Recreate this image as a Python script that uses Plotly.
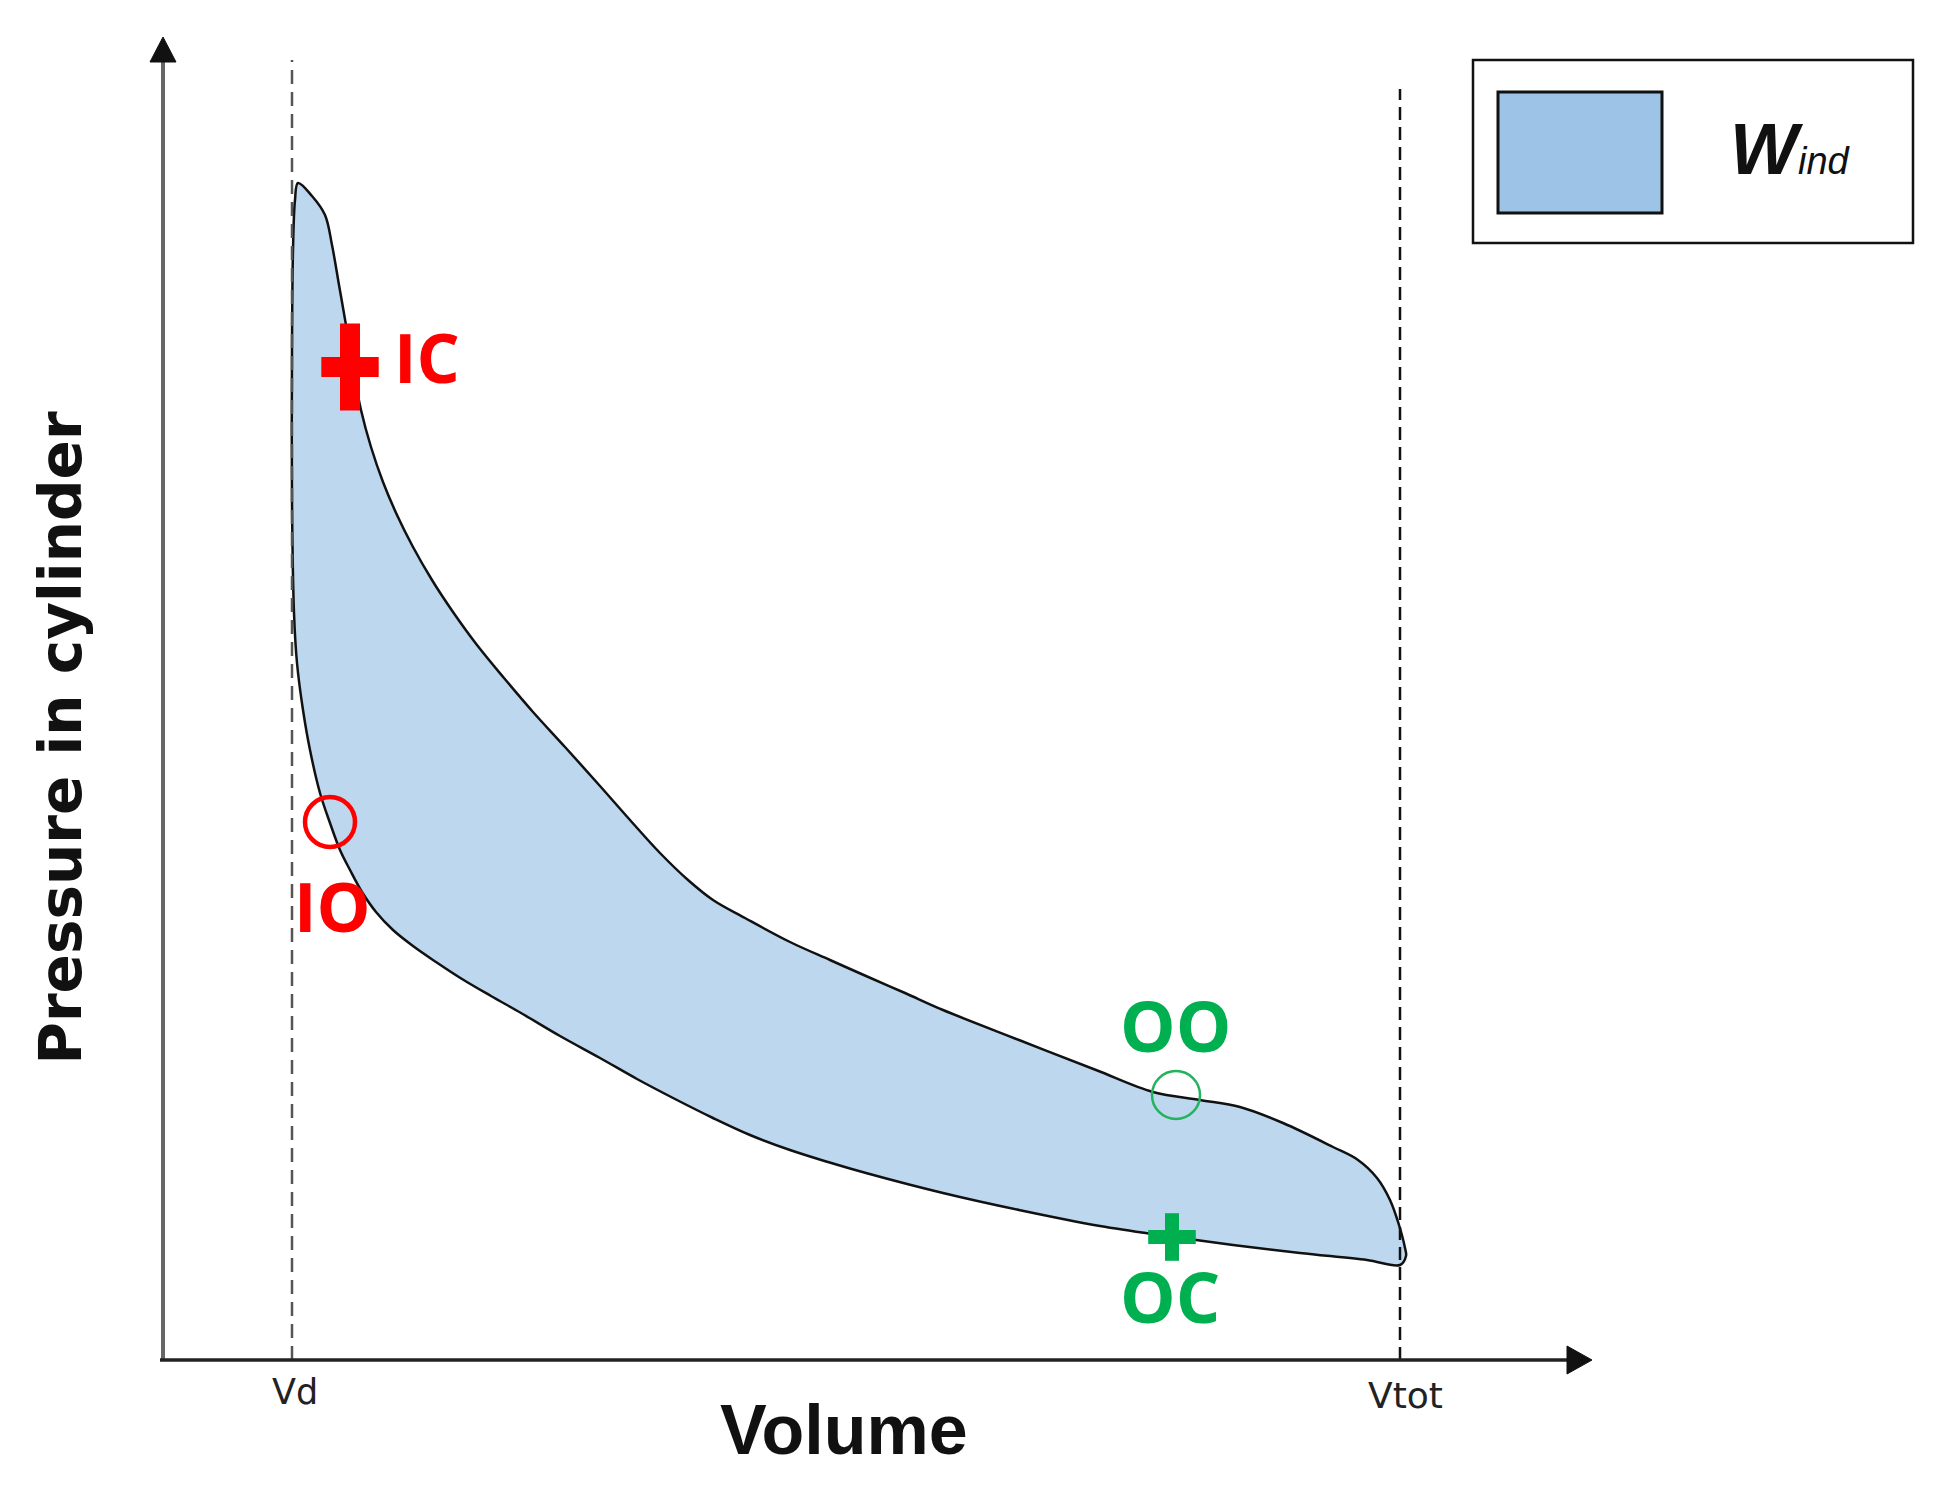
import plotly.graph_objects as go

vol_expansion = [13.5, 14.9, 16.2, 16.9, 17.6, 18.3, 19.0, 19.8, 20.8, 22.0, 23.4, 25.0, 26.9, 29.0,
                 31.4, 34.1, 37.0, 40.2, 43.7, 46.7, 49.7, 52.5, 55.0, 58.2, 62.7, 66.7, 70.3, 74.2,
                 78.0, 85.6, 93.3, 99.0, 103.7, 107.7, 112.0, 117.0, 119.5, 121.4, 122.7, 123.6,
                 124.2, 124.3, 123.7]
p_expansion = [117.7, 116.4, 114.5, 111.5, 107.5, 103.5, 99.2, 95.0, 91.3, 87.8, 84.5, 81.3, 78.0, 74.8,
               71.5, 68.2, 64.8, 61.3, 57.4, 54.0, 50.7, 48.0, 46.0, 44.2, 41.8, 40.0, 38.4, 36.7,
               35.0, 32.0, 29.0, 26.8, 26.0, 25.3, 23.7, 21.3, 20.0, 18.2, 16.0, 13.5,
               11.2, 10.4, 9.5]
vol_compression = [120.4, 113.7, 107.0, 100.4, 93.7, 85.6, 78.0, 70.3, 66.5, 62.7, 58.7, 55.0, 51.2,
                   47.4, 43.7, 39.7, 35.8, 32.8, 29.9, 27.3, 25.0, 23.0, 21.3, 19.9, 18.7, 17.7, 16.7,
                   15.7, 14.7, 14.0, 13.4, 13.1, 12.9, 12.9, 13.0, 13.2, 13.5]
p_compression = [10.0, 10.7, 11.5, 12.4, 13.4, 15.0, 16.7, 18.7, 19.8, 21.0, 22.5, 24.2, 26.1,
                 28.1, 30.2, 32.4, 34.7, 36.4, 38.1, 39.8, 41.4, 43.0, 44.8, 46.8, 49.0, 51.0, 53.7,
                 56.7, 61.0, 65.0, 69.7, 74.7, 86.0, 101.0, 111.0, 116.0, 117.7]

V_d = 12.9
V_tot = 123.7
vd_top = 130.0
vtot_top = 127.1

# valve events
ic_v, ic_p = [18.7], [99.3]
io_v, io_p = [16.7], [53.8]
oo_v, oo_p = [101.3], [26.5]
oc_v, oc_p = [100.9], [12.3]

tick_labels = ["Vd", "Vtot"]
x_title = "Volume"
y_title = "Pressure in cylinder"

# axis extent (origin at axes corner)
X_END = 142.9
Y_END = 132.3

RED = "#ff0000"
GREEN = "#00b050"
FILL = "#bdd7ee"
SWATCH = "#9dc3e6"

fig = go.Figure()

loop_v = vol_expansion + vol_compression
loop_p = p_expansion + p_compression
fig.add_trace(go.Scatter(x=loop_v, y=loop_p, mode="lines", fill="toself", fillcolor=FILL,
                         line=dict(color="#111", width=2.5, shape="spline", smoothing=1.0),
                         showlegend=False, hoverinfo="skip"))

# dashed reference lines at Vd and Vtot
fig.add_trace(go.Scatter(x=[V_d, V_d], y=[0, vd_top], mode="lines",
                         line=dict(color="#555", width=2.5, dash="14px,8px"), showlegend=False))
fig.add_trace(go.Scatter(x=[V_tot, V_tot], y=[0, vtot_top], mode="lines",
                         line=dict(color="#111", width=2.5, dash="13px,7px"), showlegend=False))

# IC cross (taller than wide)
fig.add_trace(go.Scatter(x=ic_v, y=ic_p, mode="markers",
                         marker=dict(symbol="line-ns", size=62, line=dict(width=20, color=RED)),
                         showlegend=False))
fig.add_trace(go.Scatter(x=ic_v, y=ic_p, mode="markers",
                         marker=dict(symbol="line-ew", size=41, line=dict(width=20, color=RED)),
                         showlegend=False))
# IO circle
fig.add_trace(go.Scatter(x=io_v, y=io_p, mode="markers",
                         marker=dict(symbol="circle-open", size=50, color=RED, line=dict(width=4.5, color=RED)),
                         showlegend=False))
# OO circle
fig.add_trace(go.Scatter(x=oo_v, y=oo_p, mode="markers",
                         marker=dict(symbol="circle-open", size=48, color="#22b35c",
                                     line=dict(width=2.5, color="#22b35c")),
                         showlegend=False))
# OC cross
fig.add_trace(go.Scatter(x=oc_v, y=oc_p, mode="markers",
                         marker=dict(symbol="line-ns", size=34, line=dict(width=14, color=GREEN)),
                         showlegend=False))
fig.add_trace(go.Scatter(x=oc_v, y=oc_p, mode="markers",
                         marker=dict(symbol="line-ew", size=34, line=dict(width=14, color=GREEN)),
                         showlegend=False))

shapes = [
    # y axis
    dict(type="line", x0=0, y0=0, x1=0, y1=Y_END - 2.5, line=dict(color="#666", width=4)),
    dict(type="path", path=f"M -1.3 {Y_END-2.5} L 0 {Y_END} L 1.3 {Y_END-2.5} Z",
         fillcolor="#111", line=dict(color="#111", width=1)),
    # x axis
    dict(type="line", x0=-0.3, y0=0, x1=X_END - 2.5, y1=0, line=dict(color="#222", width=3.5)),
    dict(type="path", path=f"M {X_END-2.5} -1.4 L {X_END} 0 L {X_END-2.5} 1.4 Z",
         fillcolor="#111", line=dict(color="#111", width=1)),
    # legend box
    dict(type="rect", x0=131.0, y0=111.7, x1=175.0, y1=130.0, line=dict(color="#111", width=2.5),
         fillcolor="white"),
    dict(type="rect", x0=133.5, y0=114.7, x1=149.9, y1=126.8, line=dict(color="#111", width=3),
         fillcolor=SWATCH),
]

annotations = [
    dict(x=26.4, y=100.4, text="<b>IC</b>", font=dict(family="Open Sans", size=68, color=RED)),
    dict(x=16.9, y=45.5, text="<b>IO</b>", font=dict(family="Open Sans", size=68, color=RED)),
    dict(x=101.2, y=33.5, text="<b>OO</b>", font=dict(family="Open Sans", size=70, color=GREEN)),
    dict(x=100.7, y=6.4, text="<b>OC</b>", font=dict(family="Open Sans", size=70, color=GREEN)),
    dict(x=13.2, y=-3.15, text=tick_labels[0], font=dict(family="DejaVu Sans", size=35, color="#222")),
    dict(x=124.2, y=-3.5, text=tick_labels[1], font=dict(family="DejaVu Sans", size=36, color="#222")),
    dict(x=68.05, y=-7.0, text=f"<b>{x_title}</b>", font=dict(family="Liberation Sans", size=70, color="#111")),
    dict(x=-10.25, y=62.2, text=f"<b>{y_title}</b>", textangle=-90,
         font=dict(family="DejaVu Sans", size=58, color="#111")),
    dict(x=156.5, y=121.1, xanchor="left",
         text="<b><i>W</i></b><i><span style='font-size:38px'>ind</span></i>",
         font=dict(family="Liberation Sans", size=72, color="#111")),
]
for a in annotations:
    a.setdefault("xanchor", "center")
    a.setdefault("yanchor", "middle")
    a["showarrow"] = False
    a["xref"] = "x"
    a["yref"] = "y"

fig.update_layout(
    width=1944, height=1500,
    margin=dict(l=0, r=0, t=0, b=0),
    paper_bgcolor="white", plot_bgcolor="white",
    xaxis=dict(range=[-16.3, 178.1], visible=False, fixedrange=True),
    yaxis=dict(range=[-14.0, 136.0], visible=False, fixedrange=True),
    shapes=shapes, annotations=annotations,
    showlegend=False,
)

fig.write_html("out.html", config={"displayModeBar": False},
               post_script="document.body.style.margin='0';document.body.style.overflow='hidden';")
